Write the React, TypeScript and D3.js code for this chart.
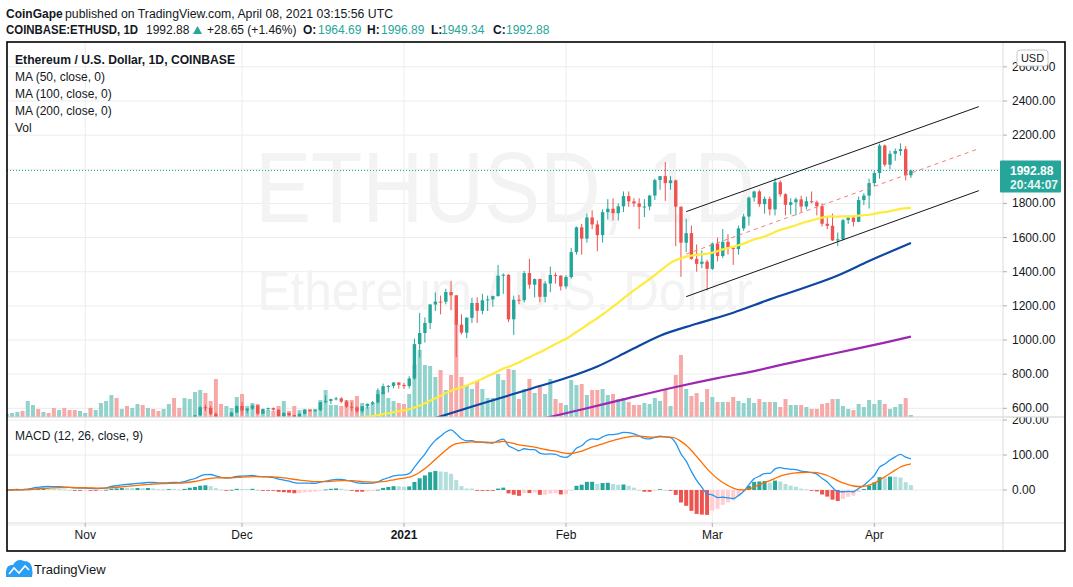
import React from "react";
import * as d3 from "d3";

// ---------- DATA (daily candles, Oct 17 2020 – Apr 8 2021) ----------
const firstDay = "2020-10-17";
const lastDay = "2021-04-08";

const opens = [
  366, 368, 377, 379, 368, 392, 413, 409, 412, 406, 393, 404, 388, 386, 383,
  386, 396, 383, 387, 402, 414, 454, 435, 453, 444, 449, 462, 461, 475, 460, 448, 459, 480, 478, 472, 509, 549, 559, 606, 602, 567, 517, 515, 537, 575,
  614, 587, 598, 616, 569, 596, 601, 592, 554, 573, 560, 545, 568, 590, 586, 589, 636, 643, 654, 658, 639, 609, 605, 583, 612, 626, 635, 683, 730, 731, 751,
  737, 730, 775, 976, 1041, 1100, 1208, 1225, 1224, 1281, 1262, 1090, 1043, 1130, 1217, 1171, 1233, 1238, 1257, 1377, 1382, 1121, 1236, 1233, 1392, 1324, 1357, 1253, 1331, 1381, 1377,
  1314, 1369, 1515, 1660, 1594, 1718, 1677, 1614, 1749, 1769, 1743, 1783, 1843, 1812, 1800, 1780, 1782, 1846, 1937, 1960, 1919, 1935, 1781, 1570, 1626, 1475, 1446, 1459,
  1417, 1565, 1492, 1575, 1541, 1533, 1654, 1723, 1834, 1870, 1796, 1827, 1765, 1924, 1854, 1792, 1807, 1824, 1782, 1813, 1807, 1784, 1681, 1669, 1583, 1590, 1702, 1717, 1692, 1820, 1846,
  1919, 1978, 2139, 2027, 2091, 2107, 2118, 1964.69,
];
const highs = [
  370, 378, 385, 381, 397, 416, 415, 414, 419, 407, 406, 406, 393, 387, 394,
  397, 400, 389, 405, 418, 456, 459, 456, 460, 452, 468, 468, 479, 475, 461, 462, 490, 495, 484, 514, 552, 560, 612, 621, 614, 577, 525, 545, 579, 616,
  637, 601, 622, 620, 598, 604, 605, 593, 576, 574, 561, 570, 595, 592, 595, 637, 677, 656, 667, 665, 648, 637, 612, 614, 628, 643, 717, 745, 737, 754, 753,
  749, 788, 1008, 1159, 1133, 1211, 1279, 1260, 1300, 1347, 1262, 1150, 1135, 1247, 1250, 1270, 1260, 1260, 1440, 1390, 1385, 1260, 1264, 1405, 1475, 1360, 1360, 1345, 1430, 1395, 1380,
  1380, 1540, 1665, 1680, 1740, 1760, 1700, 1765, 1825, 1830, 1800, 1870, 1870, 1830, 1830, 1825, 1850, 1945, 1960, 2042, 1960, 1940, 1782, 1710, 1670, 1560, 1525, 1470,
  1570, 1600, 1650, 1620, 1550, 1670, 1740, 1840, 1875, 1880, 1840, 1840, 1950, 1935, 1860, 1830, 1835, 1845, 1840, 1870, 1817, 1800, 1725, 1740, 1630, 1710, 1730, 1730, 1840, 1860, 1945,
  1990, 2150, 2145, 2110, 2122, 2152, 2135, 1996.89,
];
const lows = [
  364, 366, 374, 363, 365, 388, 402, 406, 402, 386, 389, 381, 376, 372, 379,
  384, 378, 370, 374, 398, 411, 427, 431, 433, 440, 447, 452, 456, 450, 440, 444, 456, 460, 466, 470, 508, 524, 555, 584, 560, 480, 492, 505, 533, 572,
  558, 571, 591, 562, 565, 586, 585, 550, 530, 552, 534, 543, 565, 578, 582, 583, 629, 625, 646, 630, 603, 585, 570, 571, 598, 619, 627, 682, 693, 717, 716,
  714, 716, 768, 897, 985, 1064, 1170, 1150, 1209, 1175, 900, 1033, 1010, 1100, 1100, 1150, 1170, 1195, 1255, 1270, 1105, 1030, 1210, 1220, 1300, 1250, 1220, 1220, 1280, 1330, 1290,
  1300, 1360, 1500, 1500, 1570, 1650, 1520, 1570, 1705, 1700, 1700, 1750, 1780, 1780, 1650, 1720, 1760, 1820, 1880, 1815, 1880, 1550, 1370, 1515, 1470, 1400, 1420, 1290,
  1410, 1460, 1480, 1500, 1440, 1500, 1640, 1670, 1810, 1780, 1740, 1730, 1730, 1840, 1730, 1735, 1730, 1750, 1765, 1800, 1730, 1665, 1650, 1580, 1550, 1585, 1680, 1665, 1690, 1790, 1770,
  1900, 1945, 2015, 2000, 2050, 2080, 1935, 1949.34,
];
const closes = [
  368, 377, 379, 368, 392, 413, 409, 412, 406, 393, 404, 388, 386, 383, 386,
  396, 383, 387, 402, 414, 454, 435, 453, 444, 449, 462, 461, 475, 460, 448, 459, 480, 478, 472, 509, 549, 559, 606, 602, 567, 517, 515, 537, 575, 614,
  587, 598, 616, 569, 596, 601, 592, 554, 573, 560, 545, 568, 590, 586, 589, 636, 643, 654, 658, 639, 609, 605, 583, 612, 626, 635, 683, 730, 731, 751, 737,
  730, 775, 976, 1041, 1100, 1208, 1225, 1224, 1281, 1262, 1090, 1043, 1130, 1217, 1171, 1233, 1238, 1257, 1377, 1382, 1121, 1236, 1233, 1392, 1324, 1357, 1253, 1331, 1381, 1377, 1314,
  1369, 1515, 1660, 1594, 1718, 1677, 1614, 1749, 1769, 1743, 1783, 1843, 1812, 1800, 1780, 1782, 1846, 1937, 1960, 1919, 1935, 1781, 1570, 1626, 1475, 1446, 1459, 1417,
  1565, 1492, 1575, 1541, 1533, 1654, 1723, 1834, 1870, 1796, 1827, 1765, 1924, 1854, 1792, 1807, 1824, 1782, 1813, 1807, 1784, 1681, 1669, 1583, 1590, 1702, 1717, 1692, 1820, 1846, 1919,
  1978, 2139, 2027, 2091, 2107, 2118, 1964.69, 1992.88,
];
// volume in thousand ETH
const volumes = [
  36, 48, 60, 72, 192, 144, 96, 60, 48, 108, 84, 108, 84, 84, 72,
  48, 108, 84, 168, 192, 264, 228, 96, 132, 108, 156, 144, 108, 96, 72, 96, 156, 228, 108, 228, 216, 300, 324, 288, 192, 456, 156, 132, 108, 240,
  276, 132, 168, 156, 72, 84, 72, 132, 192, 72, 132, 84, 96, 96, 96, 204, 324, 144, 144, 132, 204, 204, 252, 168, 120, 168, 324, 300, 228, 192, 168,
  156, 276, 624, 804, 624, 612, 480, 564, 324, 504, 1116, 480, 384, 336, 432, 336, 228, 228, 516, 444, 576, 564, 216, 336, 456, 288, 360, 276, 456, 216, 168,
  144, 444, 384, 396, 264, 324, 324, 336, 264, 276, 216, 228, 180, 144, 144, 168, 156, 228, 192, 324, 132, 504, 744, 336, 252, 288, 180, 336,
  240, 180, 180, 180, 240, 192, 168, 228, 168, 216, 180, 180, 180, 120, 216, 144, 144, 144, 120, 96, 96, 156, 168, 216, 216, 132, 96, 84, 156, 120, 204,
  156, 204, 156, 96, 120, 156, 228, 24,
];

// Moving averages
const ma100Dates = ["2021-01-07", "2021-01-15", "2021-01-25", "2021-02-01", "2021-02-07", "2021-02-13", "2021-02-19", "2021-02-26", "2021-03-05", "2021-03-12", "2021-03-19", "2021-03-25", "2021-03-31", "2021-04-08"];
const ma100Values = [543, 619, 712, 777, 845, 935, 1025, 1095, 1160, 1238, 1310, 1378, 1463, 1569];
const ma200Dates = ["2021-01-28", "2021-02-05", "2021-02-13", "2021-02-22", "2021-03-02", "2021-03-09", "2021-03-15", "2021-03-21", "2021-03-28", "2021-04-03", "2021-04-08"];
const ma200Values = [543, 600, 660, 725, 777, 818, 860, 900, 945, 985, 1020];

// Parallel channel drawing
const channelDates = ["2021-02-24", "2021-04-21"];
const channelUpper = [1752, 2367];
const channelMiddle = [1503, 2121];
const channelLower = [1254, 1875];

const priceTicks = [600, 800, 1000, 1200, 1400, 1600, 1800, 2000, 2200, 2400, 2600];
const priceLabelTicks = [600, 800, 1000, 1200, 1400, 1600, 1800, 2200, 2400, 2600];
const macdTicks = [200, 100, 0, -100];
const macdLabelTicks = [200, 100, 0];
const monthTicks = ["2020-11-01", "2020-12-01", "2021-01-01", "2021-02-01", "2021-03-01", "2021-04-01"];
const monthLabels = ["Nov", "Dec", "2021", "Feb", "Mar", "Apr"];

const lastPrice = 1992.88;

// ---------- COLORS ----------
const UP = "#26a69a";
const DOWN = "#ef5350";
const UP_VOL = "#92d2cc";
const DOWN_VOL = "#f7a9a8";
const GRID = "#ececec";
const TEXT = "#131722";
const FONT = "'Liberation Sans', Arial, sans-serif";

function ema(arr: number[], n: number) {
  const k = 2 / (n + 1);
  const out: number[] = [];
  let prev = arr[0];
  arr.forEach((v, i) => {
    prev = i === 0 ? v : v * k + prev * (1 - k);
    out.push(prev);
  });
  return out;
}

export default function App() {
  const parse = (s: string) => new Date(s + "T00:00:00Z");
  const start = parse(firstDay);
  const end = parse(lastDay);
  const dates = d3.utcDay.range(start, d3.utcDay.offset(end, 1));

  const L = 7, R = 1003, T = 42, PB = 417, MB = 523, B = 551, FR = 1065;

  const x = d3.scaleUtc().domain([start, end]).range([6.85, 910.9]);
  const yP = d3.scaleLinear().domain([600, 2400]).range([408.3, 101]);
  const yV = d3.scaleLinear().domain([0, 1200]).range([PB, PB - 100]);
  const yM = d3.scaleLinear().domain([0, 100]).range([490, 455]);

  // MA50 from closes
  const ma50: [Date, number][] = [];
  closes.forEach((_, i) => {
    if (i >= 49) ma50.push([dates[i], d3.mean(closes.slice(i - 49, i + 1)) as number]);
  });
  const ma100 = ma100Dates.map((d, i) => [parse(d), ma100Values[i]] as [Date, number]);
  const ma200 = ma200Dates.map((d, i) => [parse(d), ma200Values[i]] as [Date, number]);

  const priceLine = d3
    .line<[Date, number]>()
    .x((d) => x(d[0]))
    .y((d) => yP(d[1]))
    .curve(d3.curveMonotoneX);

  // MACD
  const e12 = ema(closes, 12);
  const e26 = ema(closes, 26);
  const macd = e12.map((v, i) => v - e26[i]);
  const signal = ema(macd, 9);
  const hist = macd.map((v, i) => v - signal[i]);
  const macdLine = d3
    .line<number>()
    .x((_, i) => x(dates[i]))
    .y((d) => yM(d))
    .curve(d3.curveMonotoneX);

  const histColor = (i: number) => {
    const h = hist[i];
    const p = i > 0 ? hist[i - 1] : h;
    if (h >= 0) return h > p ? "#26a69a" : "#b2dfdb";
    return h < p ? "#ef5350" : "#ffcdd2";
  };

  const bodyW = 3.4;
  const volW = 4;

  const chDates = channelDates.map(parse);
  const chLine = (vals: number[]) =>
    d3
      .line<number>()
      .x((_, i) => x(chDates[i]))
      .y((d) => yP(d))(vals) as string;

  const yLast = yP(lastPrice);

  return (
    <div style={{ position: "absolute", left: 0, top: 0 }}>
      <svg width={1073} height={587} style={{ display: "block", background: "#fff" }} fontFamily={FONT}>
        <defs>
          <clipPath id="pricePane">
            <rect x={L} y={T} width={R - L} height={PB - T} />
          </clipPath>
          <clipPath id="macdPane">
            <rect x={L} y={PB} width={R - L} height={MB - PB} />
          </clipPath>
          <clipPath id="macdAxis">
            <rect x={R} y={PB + 0.5} width={FR - R} height={MB - PB} />
          </clipPath>
          <clipPath id="priceAxis">
            <rect x={R} y={T} width={FR - R} height={PB - T} />
          </clipPath>
        </defs>

        {/* header */}
        <text y={18} fontSize={12} fill={TEXT}>
          <tspan x={6} fontWeight="bold">CoinGape</tspan>
          <tspan x={65} textLength={328} lengthAdjust="spacingAndGlyphs">published on TradingView.com, April 08, 2021 03:15:56 UTC</tspan>
        </text>
        <g fontSize={12} fill={TEXT}>
          <text x={6} y={34} fontWeight="bold" textLength={132} lengthAdjust="spacingAndGlyphs">COINBASE:ETHUSD, 1D</text>
          <text x={146} y={34}>1992.88</text>
          <path d="M193,34 L197.5,26 L202,34 Z" fill={UP} />
          <text x={207} y={34}>+28.65 (+1.46%)</text>
          <text x={303} y={34} fontWeight="bold">O:</text>
          <text x={318} y={34} fill={UP}>1964.69</text>
          <text x={367} y={34} fontWeight="bold">H:</text>
          <text x={381} y={34} fill={UP}>1996.89</text>
          <text x={431} y={34} fontWeight="bold">L:</text>
          <text x={441} y={34} fill={UP}>1949.34</text>
          <text x={493} y={34} fontWeight="bold">C:</text>
          <text x={506} y={34} fill={UP}>1992.88</text>
        </g>

        {/* grid */}
        <g stroke={GRID} strokeWidth={1}>
          {priceTicks.map((p) => (
            <line key={"pg" + p} x1={L} x2={R} y1={yP(p)} y2={yP(p)} clipPath="url(#pricePane)" />
          ))}
          {macdTicks.map((m) => (
            <line key={"mg" + m} x1={L} x2={R} y1={yM(m)} y2={yM(m)} />
          ))}
          {monthTicks.map((m) => (
            <line key={"vg" + m} x1={x(parse(m))} x2={x(parse(m))} y1={T} y2={MB} />
          ))}
        </g>

        {/* watermark */}
        <g fill="#f3f3f4" textAnchor="middle">
          <text x={505} y={222} fontSize={100} textLength={500} lengthAdjust="spacingAndGlyphs">ETHUSD, 1D</text>
          <text x={505} y={310} fontSize={56} textLength={495} lengthAdjust="spacingAndGlyphs">Ethereum / U.S. Dollar</text>
        </g>

        {/* price pane */}
        <g clipPath="url(#pricePane)">
          {volumes.map((v, i) => (
            <rect
              key={"v" + i}
              x={x(dates[i]) - volW / 2}
              y={yV(v)}
              width={volW}
              height={PB - yV(v)}
              fill={closes[i] >= opens[i] ? UP_VOL : DOWN_VOL}
            />
          ))}
          {dates.map((d, i) => {
            const cx = x(d);
            const up = closes[i] >= opens[i];
            const c = up ? UP : DOWN;
            const top = yP(Math.max(opens[i], closes[i]));
            const bot = yP(Math.min(opens[i], closes[i]));
            return (
              <g key={"c" + i}>
                <line x1={cx} x2={cx} y1={yP(highs[i])} y2={yP(lows[i])} stroke={c} strokeWidth={1} />
                <rect x={cx - bodyW / 2} y={top} width={bodyW} height={Math.max(1, bot - top)} fill={c} />
              </g>
            );
          })}
          <path d={priceLine(ma200) as string} fill="none" stroke="#9c27b0" strokeWidth={2.2} />
          <path d={priceLine(ma100) as string} fill="none" stroke="#0d47a1" strokeWidth={2.2} />
          <path d={priceLine(ma50) as string} fill="none" stroke="#ffeb3b" strokeWidth={2.2} />
          <path d={chLine(channelUpper)} fill="none" stroke="#131722" strokeWidth={1} />
          <path d={chLine(channelLower)} fill="none" stroke="#131722" strokeWidth={1} />
          <path d={chLine(channelMiddle)} fill="none" stroke="#f47d7b" strokeWidth={1} strokeDasharray="4,4" />
          <line x1={L} x2={R} y1={yLast} y2={yLast} stroke={UP} strokeWidth={1} strokeDasharray="1,2" />
        </g>

        {/* legend */}
        <g fontSize={12} fill={TEXT}>
          <text x={15} y={64} fontWeight="bold" textLength={220} lengthAdjust="spacingAndGlyphs">Ethereum / U.S. Dollar, 1D, COINBASE</text>
          <text x={15} y={81}>MA (50, close, 0)</text>
          <text x={15} y={98}>MA (100, close, 0)</text>
          <text x={15} y={115}>MA (200, close, 0)</text>
          <text x={15} y={132}>Vol</text>
        </g>

        {/* MACD pane */}
        <g clipPath="url(#macdPane)">
          {hist.map((h, i) => (
            <rect
              key={"h" + i}
              x={x(dates[i]) - volW / 2}
              y={Math.min(yM(0), yM(h))}
              width={volW}
              height={Math.max(0.8, Math.abs(yM(h) - yM(0)))}
              fill={histColor(i)}
            />
          ))}
          <path d={macdLine(macd) as string} fill="none" stroke="#2196f3" strokeWidth={1.3} />
          <path d={macdLine(signal) as string} fill="none" stroke="#ff6d00" strokeWidth={1.3} />
        </g>
        <text x={15} y={440} fontSize={12} fill={TEXT}>MACD (12, 26, close, 9)</text>

        {/* separators */}
        <line x1={L} x2={FR} y1={PB} y2={PB} stroke="#cfcfcf" strokeWidth={1} />
        <line x1={L} x2={FR} y1={MB} y2={MB} stroke="#dcdcdc" strokeWidth={1} />
        <line x1={R} x2={R} y1={T} y2={B} stroke="#dcdcdc" strokeWidth={1} />

        {/* price axis */}
        <g fontSize={12} fill={TEXT}>
          <g clipPath="url(#priceAxis)">
            {priceLabelTicks.map((p) => (
              <g key={"pl" + p}>
                <line x1={R} x2={R + 4} y1={yP(p)} y2={yP(p)} stroke="#b0b0b0" />
                <text x={1012} y={yP(p) + 4}>{p.toFixed(2)}</text>
              </g>
            ))}
          </g>
          <g clipPath="url(#macdAxis)">
            {macdLabelTicks.map((m) => (
              <g key={"ml" + m}>
                <line x1={R} x2={R + 4} y1={yM(m)} y2={yM(m)} stroke="#b0b0b0" />
                <text x={1012} y={yM(m) + 4}>{m.toFixed(2)}</text>
              </g>
            ))}
          </g>
        </g>
        {/* USD badge */}
        <rect x={1017} y={50} width={31} height={16} rx={3} fill="#fff" stroke="#c8c8c8" />
        <text x={1032.5} y={62} fontSize={11} textAnchor="middle" fill={TEXT}>USD</text>
        {/* last price label */}
        <rect x={1000} y={yLast - 10} width={61} height={32} rx={1} fill={UP} />
        <text x={1010} y={yLast + 4} fontSize={12} fontWeight="bold" fill="#fff">{lastPrice.toFixed(2)}</text>
        <text x={1010} y={yLast + 18} fontSize={12} fontWeight="bold" fill="#e6f6f4">20:44:07</text>

        {/* time axis */}
        <g fontSize={12} fill={TEXT} textAnchor="middle">
          {monthTicks.map((m, i) => (
            <g key={"tl" + m}>
              <line x1={x(parse(m))} x2={x(parse(m))} y1={MB} y2={MB + 4} stroke="#b0b0b0" />
              <text x={x(parse(m))} y={539} fontWeight={monthLabels[i] === "2021" ? "bold" : "normal"}>
                {monthLabels[i]}
              </text>
            </g>
          ))}
        </g>

        {/* frame */}
        <rect x={L} y={T} width={FR - L} height={B - T} fill="none" stroke="#000" strokeWidth={1.6} />

        {/* TradingView logo */}
        <path d="M6,577 L6,571 Q7,564 13,565 Q17,558 24,561 Q31,561 32,568 Q33,573 32,577 Z" fill="#2a9df4" />
        <polyline points="9,574 14,568 19,573 25,566 29,570" fill="none" stroke="#fff" strokeWidth={1.6} />
        <text x={34} y={574} fontSize={13} fill={TEXT}>TradingView</text>
      </svg>
    </div>
  );
}
